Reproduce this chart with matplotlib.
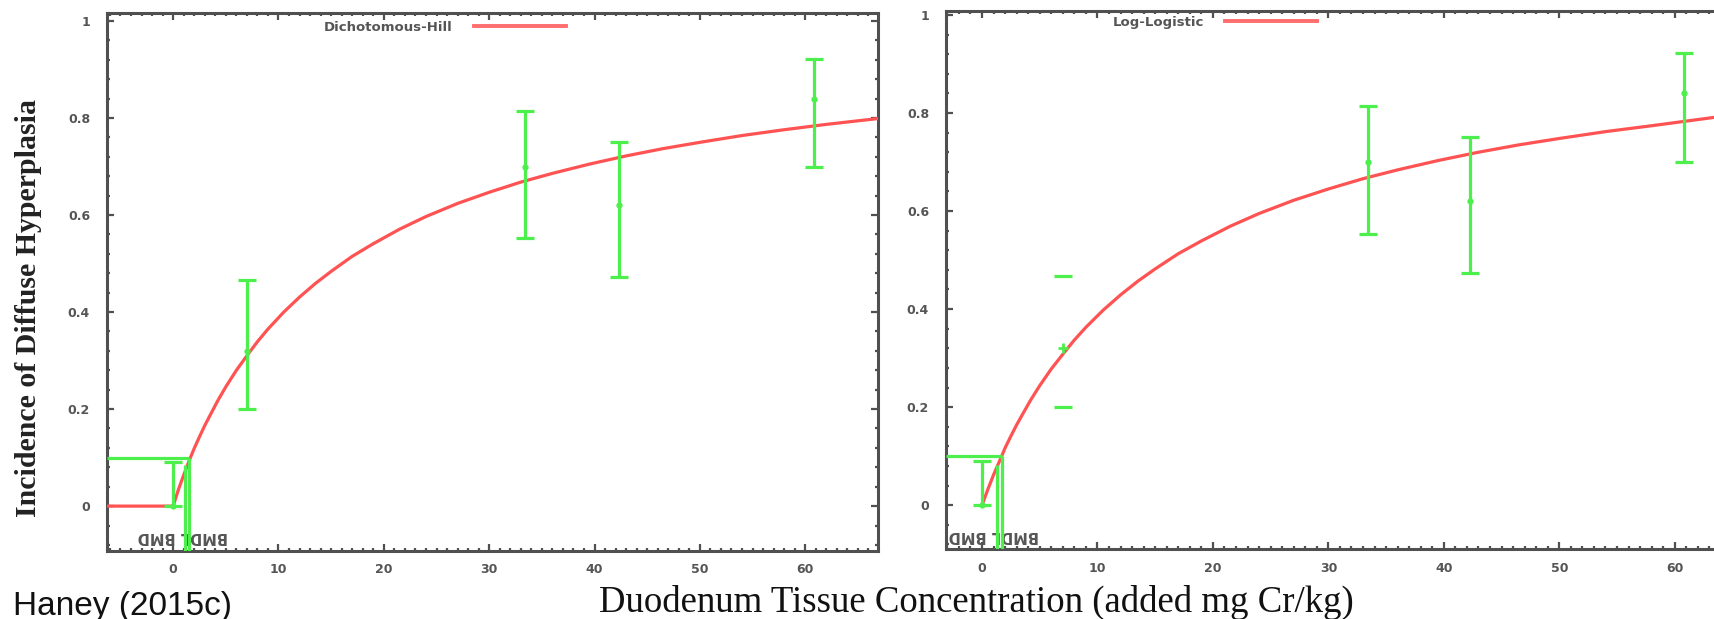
import numpy as np
import matplotlib
matplotlib.use("Agg")
import matplotlib.pyplot as plt
from matplotlib.ticker import MultipleLocator, FixedLocator
from matplotlib.lines import Line2D

# ---- data ----
dose = np.array([0, 7, 33.4, 42.3, 60.8])
incidence = np.array([0.0, 0.32, 0.70, 0.62, 0.84])
ci_low = np.array([0.0, 0.20, 0.553, 0.473, 0.70])
ci_high = np.array([0.09, 0.467, 0.815, 0.75, 0.922])

hill_x = [-6.3, 0, 0.5, 1, 1.6, 2, 2.5, 3, 3.5, 4.2, 5, 6, 7, 8, 9, 10.5, 12, 13.5,
          15, 17, 19, 21.5, 24, 27, 30, 33, 36, 39.5, 43, 46.5, 50, 54, 58, 62, 66.9]
hill_y = [0, 0, 0.034, 0.064, 0.098, 0.119, 0.143, 0.166, 0.187, 0.216, 0.246, 0.280,
          0.310, 0.339, 0.365, 0.400, 0.431, 0.459, 0.484, 0.515, 0.541, 0.571, 0.597,
          0.624, 0.647, 0.668, 0.686, 0.705, 0.722, 0.737, 0.750, 0.764, 0.776,
          0.787, 0.799]

loglog_x = [0, 0.5, 1, 1.7, 2, 2.5, 3, 3.5, 4.2, 5, 6, 7, 8, 9, 10.5, 12, 13.5,
            15, 17, 19, 21.5, 24, 27, 30, 33, 36, 39.5, 43, 46.5, 50, 54, 58, 63.4]
loglog_y = [0, 0.032, 0.062, 0.100, 0.117, 0.141, 0.164, 0.185, 0.214, 0.244, 0.278,
            0.308, 0.337, 0.363, 0.398, 0.429, 0.457, 0.482, 0.513, 0.539, 0.569,
            0.595, 0.622, 0.645, 0.666, 0.684, 0.703, 0.720, 0.735, 0.748, 0.762,
            0.774, 0.791]

bmr = 0.1
hill_bmd, hill_bmdl, hill_bmdl_y = 1.55, 1.15, 0.085
ll_bmd, ll_bmdl, ll_bmdl_y = 1.7, 1.3, 0.082

x_ticks = [0, 10, 20, 30, 40, 50, 60]
x_ticklabels = ["0", "10", "20", "30", "40", "50", "60"]
y_ticks = [0, 0.2, 0.4, 0.6, 0.8, 1.0]
y_ticklabels = ["0", "0.2", "0.4", "0.6", "0.8", "1"]

left_xlim = (-6.3, 66.9)
left_ylim = (-0.092, 1.016)
right_xlim = (-3.14, 63.4)
right_ylim = (-0.090, 1.008)

model_names = ["Dichotomous-Hill", "Log-Logistic"]

RED = "#ff5252"
RED_LEG = "#ff6e6e"
GREEN = "#4cef4c"
FRAME = "#505050"
TXT = "#555555"

fig = plt.figure(figsize=(17.14, 6.19), dpi=100)
ax1 = fig.add_axes([0.0623, 0.1103, 0.4499, 0.8682])
ax2 = fig.add_axes([0.5518, 0.1126, 0.4482, 0.8696])


def style(ax, xlim, ylim, show_right=True):
    ax.set_xlim(*xlim)
    ax.set_ylim(*ylim)
    for s in ax.spines.values():
        s.set_linewidth(2.2)
        s.set_color(FRAME)
    if not show_right:
        ax.spines["right"].set_visible(False)
    ax.xaxis.set_major_locator(FixedLocator(x_ticks))
    ax.set_xticklabels(x_ticklabels)
    ax.yaxis.set_major_locator(FixedLocator(y_ticks))
    ax.set_yticklabels(y_ticklabels)
    ax.xaxis.set_minor_locator(MultipleLocator(1))
    ax.yaxis.set_minor_locator(MultipleLocator(0.04))
    ax.tick_params(which="both", direction="in", top=True, right=show_right,
                   color=FRAME, width=1.6)
    ax.tick_params(which="major", length=5)
    ax.tick_params(which="minor", length=2.5)
    ax.tick_params(axis="x", which="major", pad=9, labelsize=9, labelcolor=TXT)
    ax.tick_params(axis="y", which="major", pad=12, labelsize=9, labelcolor=TXT)
    for lab in ax.get_xticklabels() + ax.get_yticklabels():
        lab.set_fontweight("bold")


# ---- left panel: Dichotomous-Hill ----
style(ax1, left_xlim, left_ylim)
ax1.plot(hill_x, hill_y, color=RED, lw=2.3, zorder=3, solid_joinstyle="round")
ax1.hlines(bmr, left_xlim[0], hill_bmd, color=GREEN, lw=2.3, zorder=4)
ax1.vlines(hill_bmd, left_ylim[0], bmr, color=GREEN, lw=2.3, zorder=4)
ax1.vlines(hill_bmdl, left_ylim[0], hill_bmdl_y, color=GREEN, lw=2.3, zorder=4)
ax1.errorbar(dose, incidence, yerr=[incidence - ci_low, ci_high - incidence],
             fmt="o", color=GREEN, ms=3.5, elinewidth=2.3, capsize=6.5,
             capthick=2.3, zorder=5)
ax1.text((hill_bmd + hill_bmdl) / 2 - 0.4, -0.062, "BMDL BMD", rotation=180,
         ha="center", va="center", fontsize=10.5, fontweight="bold", color=TXT)

# ---- right panel: Log-Logistic ----
style(ax2, right_xlim, right_ylim, show_right=False)
ax2.plot(loglog_x, loglog_y, color=RED, lw=2.3, zorder=3, solid_joinstyle="round")
ax2.hlines(bmr, right_xlim[0], ll_bmd, color=GREEN, lw=2.3, zorder=4)
ax2.vlines(ll_bmd, right_ylim[0], bmr, color=GREEN, lw=2.3, zorder=4)
ax2.vlines(ll_bmdl, right_ylim[0], ll_bmdl_y, color=GREEN, lw=2.3, zorder=4)
full = np.array([True, False, True, True, True])
ax2.errorbar(dose[full], incidence[full],
             yerr=[incidence[full] - ci_low[full], ci_high[full] - incidence[full]],
             fmt="o", color=GREEN, ms=3.5, elinewidth=2.3, capsize=6.5,
             capthick=2.3, zorder=5)
part = ~full
ax2.plot(np.r_[dose[part], dose[part]], np.r_[ci_low[part], ci_high[part]],
         ls="none", marker="_", ms=13, mew=2.3, color=GREEN, zorder=5)
ax2.plot(dose[part], incidence[part], ls="none", marker="+", ms=7, mew=2.0,
         color=GREEN, zorder=5)
ax2.text((ll_bmd + ll_bmdl) / 2 - 0.5, -0.061, "BMDL BMD", rotation=180,
         ha="center", va="center", fontsize=10.5, fontweight="bold", color=TXT)

# ---- legends ----
for ax, name, anchor in [(ax1, model_names[0], (0.27, 1.003)),
                         (ax2, model_names[1], (0.205, 1.008))]:
    h = Line2D([], [], color=RED_LEG, lw=2.8)
    leg = ax.legend([h], [name], loc="upper left", bbox_to_anchor=anchor,
                    frameon=False, markerfirst=False, handlelength=7.0,
                    handletextpad=1.6, borderaxespad=0.3,
                    prop={"size": 9.5, "weight": "bold"})
    for t in leg.get_texts():
        t.set_color(TXT)

# ---- figure texts ----
fig.text(0.0165, 0.502, "Incidence of Diffuse Hyperplasia", rotation=90,
         ha="center", va="center", fontsize=21.5, family="Liberation Serif",
         fontweight="bold", color="#222222")
fig.text(0.5694, 0.026, "Duodenum Tissue Concentration (added mg Cr/kg)",
         ha="center", va="center", fontsize=26.5, family="Liberation Serif",
         color="#111111")
fig.text(13 / 1714, 0.006, "Haney (2015c)", ha="left", va="baseline",
         fontsize=24, family="Liberation Sans", color="#111111")

fig.savefig("out.png", dpi=100)
